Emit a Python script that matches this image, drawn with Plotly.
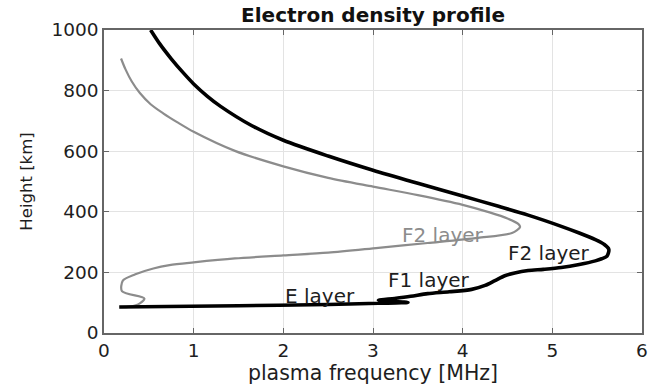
import plotly.graph_objects as go

# Electron density profiles: plasma frequency (MHz) versus height (km)
day_freq = [0.52, 0.62, 0.75, 0.88, 1.00, 1.15, 1.30, 1.65, 2.00, 2.50, 3.00, 3.50, 4.00,
            4.40, 4.73, 5.10, 5.30, 5.48, 5.58, 5.63, 5.61, 5.55, 5.48, 5.30, 5.10,
            4.90, 4.73, 4.58, 4.47, 4.36, 4.25, 4.10, 3.85, 3.61, 3.42, 3.24, 3.06,
            3.39, 3.06, 2.50, 1.50, 0.17]
day_height = [1000, 955, 905, 860, 822, 782, 748, 684, 636, 584, 537, 494, 452,
              418, 389, 352, 330, 308, 292, 276, 254, 245, 238, 226, 216,
              210, 206, 198, 189, 173, 157, 144, 136, 130, 121, 114, 108,
              101, 98, 94, 90, 86]

night_freq = [0.19, 0.24, 0.31, 0.40, 0.52, 0.66, 0.82, 1.00, 1.46, 2.00, 2.50, 3.00, 3.50,
              4.00, 4.30, 4.50, 4.62, 4.64, 4.55, 4.17, 3.61, 3.06, 2.50, 2.00, 1.46,
              1.00, 0.73, 0.55, 0.35, 0.21, 0.20, 0.45, 0.40, 0.29, 0.18]
night_height = [906, 870, 830, 792, 755, 725, 695, 664, 601, 550, 512, 483, 455,
                423, 398, 378, 360, 350, 330, 314, 297, 281, 265, 256, 246,
                233, 224, 213, 194, 173, 138, 114, 98, 87, 85]

label_text = ["E layer", "F1 layer", "F2 layer", "F2 layer"]
label_freq = [2.41, 3.62, 4.96, 3.78]
label_height = [123, 174, 264, 325]
label_color = ["#1e1e1e", "#1e1e1e", "#1e1e1e", "#8c8c8c"]

x_ticks = [0, 1, 2, 3, 4, 5, 6]
y_ticks = [0, 200, 400, 600, 800, 1000]

FONT = "DejaVu Sans"
TEXT = "#1e1e1e"

fig = go.Figure()
fig.add_trace(go.Scatter(x=night_freq, y=night_height, mode="lines",
                         line=dict(color="#8c8c8c", width=2.2, shape="spline", smoothing=0.8),
                         hoverinfo="skip", showlegend=False))
fig.add_trace(go.Scatter(x=day_freq, y=day_height, mode="lines",
                         line=dict(color="black", width=3.6, shape="spline", smoothing=0.8),
                         hoverinfo="skip", showlegend=False))

for t, fx, hy, c in zip(label_text, label_freq, label_height, label_color):
    fig.add_annotation(x=fx, y=hy, text=t, showarrow=False,
                       font=dict(family=FONT, size=20, color=c))

axis_common = dict(showline=True, linecolor="#666666", linewidth=1.5, mirror="ticks",
                   ticks="inside", ticklen=5, tickcolor="#666666",
                   showgrid=True, gridcolor="#e3e3e3", gridwidth=1, zeroline=False,
                   tickfont=dict(family=FONT, size=18.5, color=TEXT))

fig.update_xaxes(range=[0, 6], tickvals=x_ticks, ticktext=[str(v) for v in x_ticks],
                 title=dict(text="plasma frequency [MHz]", standoff=2,
                            font=dict(family=FONT, size=20.5, color=TEXT)),
                 **axis_common)
fig.update_yaxes(range=[0, 1000], tickvals=y_ticks, ticktext=[str(v) for v in y_ticks],
                 title=dict(text="Height [km]", standoff=15,
                            font=dict(family=FONT, size=16.5, color=TEXT)),
                 **axis_common)

fig.update_layout(
    width=660, height=389,
    margin=dict(l=104, r=16, t=30, b=50),
    plot_bgcolor="white", paper_bgcolor="white",
    title=dict(text="<b>Electron density profile</b>", x=0.5, xanchor="center", xref="paper",
               y=1 - 15 / 389, yanchor="middle", yref="container",
               font=dict(family=FONT, size=20, color="#111111")),
)

fig.write_html("out.html")
